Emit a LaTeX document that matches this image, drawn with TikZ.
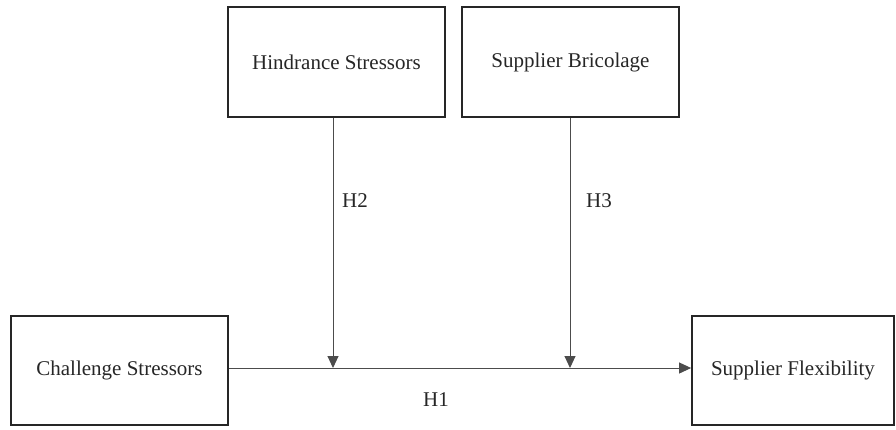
\documentclass[tikz,border=0pt]{standalone}
\usepackage{fontspec}
\setmainfont{Liberation Serif}
\usetikzlibrary{arrows.meta}
\begin{document}
\begin{tikzpicture}[x=1pt,y=-1pt,
  varbox/.style={draw=black!85,line width=1.8pt,inner sep=0pt,font=\fontsize{21}{25}\selectfont,text=black!85},
  conn/.style={draw=black!70,line width=1pt,-{Triangle[length=12pt,width=11pt]}},
  hlabel/.style={font=\fontsize{21}{25}\selectfont,text=black!85}]
\useasboundingbox (0,0) rectangle (896,429);
\node[varbox,minimum width=217pt,minimum height=110pt] (hin) at (336.5,62) {Hindrance Stressors};
\node[varbox,minimum width=217pt,minimum height=110pt] (bri) at (570.5,62) {Supplier Bricolage};
\node[varbox,minimum width=217pt,minimum height=109pt] (cha) at (119.5,370.5) {Challenge Stressors};
\node[varbox,minimum width=202pt,minimum height=109pt] (fle) at (793,370.5) {Supplier Flexibility};
\coordinate (j1) at (333,368);
\coordinate (j2) at (570,368);
\draw[conn] (cha.east |- 0,368) -- (fle.west |- 0,368);
\draw[conn] (hin.south -| j1) -- (j1);
\draw[conn] (bri.south -| j2) -- (j2);
\node[hlabel] (h2) at (355,201) {H2};
\node[hlabel] (h3) at (599,201) {H3};
\node[hlabel] (h1) at (436,400) {H1};
\end{tikzpicture}
\end{document}
